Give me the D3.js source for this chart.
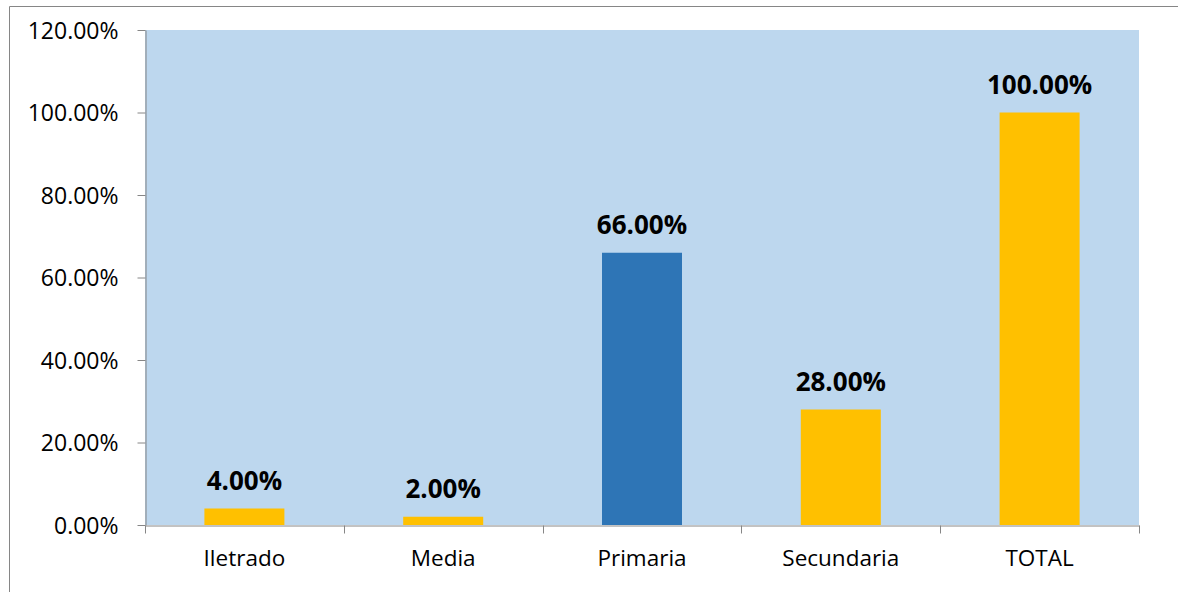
<!DOCTYPE html>
<html><head><meta charset="utf-8">
<script src="https://cdn.jsdelivr.net/npm/d3@7"></script>
<style>html,body{margin:0;padding:0;background:#fff;overflow:hidden;}svg{display:block;}</style>
</head><body>
<svg id="chart" width="1178" height="592"></svg>
<script>
const categories = ["Iletrado", "Media", "Primaria", "Secundaria", "TOTAL"];
const values = [4.00, 2.00, 66.00, 28.00, 100.00];
const barColors = ["#FFC000", "#FFC000", "#2E75B6", "#FFC000", "#FFC000"];
const yTicks = [0, 20, 40, 60, 80, 100, 120];

const svg = d3.select("#chart");
const m = {left: 145, right: 1139, top: 30, bottom: 525};
const font = "'Open Sans', sans-serif";

// outer chart border (top and left visible)
svg.append("line").attr("x1", 9.5).attr("x2", 1178).attr("y1", 6.5).attr("y2", 6.5).attr("stroke", "#868686");
svg.append("line").attr("x1", 9.5).attr("x2", 9.5).attr("y1", 6.5).attr("y2", 592).attr("stroke", "#868686");

const xb = d3.scaleBand().domain(categories).range([m.left, m.right]);
const y = d3.scaleLinear().domain([0, 120]).range([m.bottom, m.top]);

svg.append("rect").attr("x", m.left).attr("y", m.top).attr("width", m.right - m.left).attr("height", m.bottom - m.top)
  .attr("fill", "#BDD7EE");

svg.selectAll("rect.bar").data(values).enter().append("rect").attr("class", "bar")
  .attr("x", (d, i) => xb(categories[i]) + xb.bandwidth() / 2 - 40)
  .attr("width", 80)
  .attr("y", d => y(d))
  .attr("height", d => y(0) - y(d))
  .attr("fill", (d, i) => barColors[i]);

// y axis
const yAxis = d3.axisLeft(y).tickValues(yTicks).tickFormat(d => d.toFixed(2) + "%").tickSize(8).tickSizeOuter(0);
const gy = svg.append("g").attr("transform", `translate(${m.left + 0.5},0)`).call(yAxis);
gy.select(".domain").attr("stroke", "#868686");
gy.selectAll(".tick line").attr("stroke", "#868686");
gy.selectAll(".tick text").attr("font-family", font).attr("font-size", 23).attr("fill", "#000")
  .attr("x", -27).attr("dy", "0.35em");

// x axis
const xAxis = d3.axisBottom(xb).tickSize(0).tickSizeOuter(0);
const gx = svg.append("g").attr("transform", `translate(0,${m.bottom + 0.5})`).call(xAxis);
gx.select(".domain").attr("stroke", "#868686");
gx.selectAll(".tick text").attr("font-family", font).attr("font-size", 22.5).attr("fill", "#000").attr("y", 25).attr("dy", "0.71em");
const bounds = categories.map(c => xb(c)).concat([m.right]);
gx.selectAll("line.sep").data(bounds).enter().append("line").attr("class", "sep")
  .attr("x1", d => Math.round(d) + 0.5).attr("x2", d => Math.round(d) + 0.5)
  .attr("y1", 0).attr("y2", 8).attr("stroke", "#868686");

// data labels
svg.selectAll("text.lbl").data(values).enter().append("text").attr("class", "lbl")
  .attr("x", (d, i) => xb(categories[i]) + xb.bandwidth() / 2)
  .attr("y", d => y(d) - 19)
  .attr("text-anchor", "middle")
  .attr("font-family", font).attr("font-weight", "bold").attr("font-size", 26).attr("fill", "#000")
  .text(d => d.toFixed(2) + "%");
</script>
</body></html>
